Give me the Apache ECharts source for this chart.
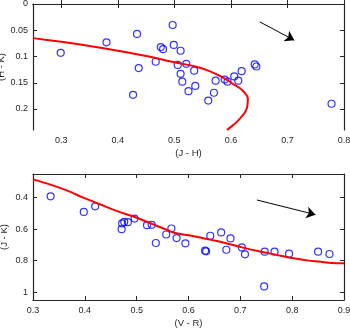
<!DOCTYPE html>
<html>
<head>
<meta charset="utf-8">
<script src="https://cdn.jsdelivr.net/npm/echarts@6/dist/echarts.min.js"></script>
<style>
  html, body { margin: 0; padding: 0; background: #fff; }
  #chart { width: 350px; height: 328px; }
</style>
</head>
<body>
<div id="chart"></div>
<script>
// top panel: (J - H) vs (H - K)
const jhStars = [0.299, 0.380, 0.434, 0.427, 0.437, 0.467, 0.476, 0.480, 0.497, 0.499,
  0.511, 0.506, 0.521, 0.511, 0.514, 0.535, 0.525, 0.537, 0.560, 0.570, 0.573,
  0.589, 0.594, 0.606, 0.613, 0.619, 0.642, 0.645, 0.778];
const hkStars = [0.093, 0.073, 0.057, 0.173, 0.122, 0.110, 0.082, 0.086, 0.040, 0.078,
  0.089, 0.116, 0.114, 0.133, 0.148, 0.127, 0.166, 0.156, 0.184, 0.169, 0.146,
  0.144, 0.148, 0.138, 0.146, 0.128, 0.115, 0.119, 0.190];
const jhTrack = [0.25, 0.30, 0.35, 0.40, 0.45, 0.50, 0.537, 0.560, 0.584, 0.605, 0.620, 0.630, 0.627, 0.611, 0.593];
const hkTrack = [0.065, 0.072, 0.080, 0.089, 0.099, 0.111, 0.119, 0.127, 0.139, 0.153, 0.164, 0.180, 0.202, 0.224, 0.240];
const jhTicks = [0.3, 0.4, 0.5, 0.6, 0.7, 0.8];
const hkTicks = [0, 0.05, 0.1, 0.15, 0.2];
const topArrow = [[0.651, 0.034], [0.712, 0.069]];

// bottom panel: (V - R) vs (J - K)
const vrStars = [0.334, 0.398, 0.420, 0.472, 0.476, 0.471, 0.483, 0.496, 0.520, 0.529,
  0.537, 0.557, 0.567, 0.577, 0.594, 0.632, 0.634, 0.642, 0.663, 0.673, 0.681,
  0.703, 0.709, 0.747, 0.766, 0.794, 0.850, 0.872, 0.746];
const jkStars = [0.392, 0.491, 0.455, 0.564, 0.554, 0.600, 0.556, 0.533, 0.575, 0.573,
  0.688, 0.634, 0.596, 0.657, 0.690, 0.737, 0.741, 0.642, 0.621, 0.731, 0.659,
  0.716, 0.760, 0.743, 0.743, 0.756, 0.743, 0.758, 0.964];
const vrTrack = [0.30, 0.332, 0.365, 0.397, 0.429, 0.461, 0.494, 0.526, 0.558, 0.574, 0.606,
  0.639, 0.671, 0.703, 0.736, 0.768, 0.800, 0.832, 0.852, 0.877, 0.90];
const jkTrack = [0.284, 0.316, 0.354, 0.400, 0.442, 0.484, 0.520, 0.562, 0.604, 0.625, 0.642,
  0.665, 0.688, 0.716, 0.741, 0.762, 0.783, 0.800, 0.806, 0.815, 0.817];
const vrTicks = [0.3, 0.4, 0.5, 0.6, 0.7, 0.8, 0.9];
const jkTicks = [0.4, 0.6, 0.8, 1];
const bottomArrow = [[0.732, 0.415], [0.845, 0.508]];

const axisColor = "#262626";
const fontFamily = "Liberation Sans, Arial, sans-serif";

function zip(xs, ys) {
  return xs.map((x, i) => [x, ys[i]]);
}

// one visible axis plus a mirrored one with ticks only (box look)
function xAxes(grid, min, max, ticks, name) {
  const base = {
    type: "value", gridIndex: grid, min: min, max: max,
    splitLine: { show: false },
    axisLine: { lineStyle: { color: axisColor, width: 1.2 } },
    axisTick: { inside: true, length: 4, customValues: ticks, lineStyle: { color: axisColor } }
  };
  return [
    Object.assign({}, base, {
      position: "bottom",
      name: name, nameLocation: "middle", nameGap: 18, nameMoveOverlap: false,
      nameTextStyle: { color: axisColor, fontSize: 9.5, fontFamily },
      axisLabel: { customValues: ticks, color: axisColor, fontSize: 9, fontFamily, margin: 6,
        formatter: v => String(+v.toFixed(2)) }
    }),
    Object.assign({}, base, { position: "top", axisLabel: { show: false } })
  ];
}

function yAxes(grid, min, max, ticks, name, gap) {
  const base = {
    type: "value", gridIndex: grid, min: min, max: max, inverse: true,
    splitLine: { show: false },
    axisLine: { lineStyle: { color: axisColor, width: 1.2 } },
    axisTick: { inside: true, length: 4, customValues: ticks, lineStyle: { color: axisColor } }
  };
  return [
    Object.assign({}, base, {
      position: "left",
      name: name, nameLocation: "middle", nameGap: gap, nameRotate: 90, nameMoveOverlap: false,
      nameTextStyle: { color: axisColor, fontSize: 9.5, fontFamily },
      axisLabel: { customValues: ticks, color: axisColor, fontSize: 9, fontFamily, margin: 5,
        formatter: v => String(+v.toFixed(2)) }
    }),
    Object.assign({}, base, { position: "right", axisLabel: { show: false } })
  ];
}

function arrow(pts) {
  return {
    silent: true, animation: false,
    symbol: ["none", "arrow"], symbolSize: 9,
    label: { show: false },
    itemStyle: { color: "#000" },
    lineStyle: { color: "#000", width: 1, type: "solid" },
    data: [[{ coord: pts[0] }, { coord: pts[1] }]]
  };
}

const chart = echarts.init(document.getElementById("chart"), null, { renderer: "canvas" });

chart.setOption({
  animation: false,
  backgroundColor: "#fff",
  grid: [
    { left: 33, right: 6, top: 4, height: 126, outerBoundsMode: "none", containLabel: false },
    { left: 33, right: 6, top: 174, height: 126, outerBoundsMode: "none", containLabel: false }
  ],
  xAxis: [
    ...xAxes(0, 0.25, 0.8, jhTicks, "(J - H)"),
    ...xAxes(1, 0.3, 0.9, vrTicks, "(V - R)")
  ],
  yAxis: [
    ...yAxes(0, 0, 0.24, hkTicks, "(H - K)", 27),
    ...yAxes(1, 0.25, 1.05, jkTicks, "(J - K)", 24)
  ],
  series: [
    {
      type: "scatter", xAxisIndex: 0, yAxisIndex: 0,
      data: zip(jhStars, hkStars),
      symbol: "circle", symbolSize: 7,
      itemStyle: { color: "transparent", borderColor: "#0000ff", borderWidth: 1.2 },
      markLine: arrow(topArrow)
    },
    {
      type: "line", xAxisIndex: 0, yAxisIndex: 0,
      data: zip(jhTrack, hkTrack),
      showSymbol: false, smooth: 0.3,
      lineStyle: { color: "#ff0000", width: 2 }
    },
    {
      type: "scatter", xAxisIndex: 2, yAxisIndex: 2,
      data: zip(vrStars, jkStars),
      symbol: "circle", symbolSize: 7,
      itemStyle: { color: "transparent", borderColor: "#0000ff", borderWidth: 1.2 },
      markLine: arrow(bottomArrow)
    },
    {
      type: "line", xAxisIndex: 2, yAxisIndex: 2,
      data: zip(vrTrack, jkTrack),
      showSymbol: false, smooth: 0.3,
      lineStyle: { color: "#ff0000", width: 2 }
    }
  ]
});
</script>
</body>
</html>
